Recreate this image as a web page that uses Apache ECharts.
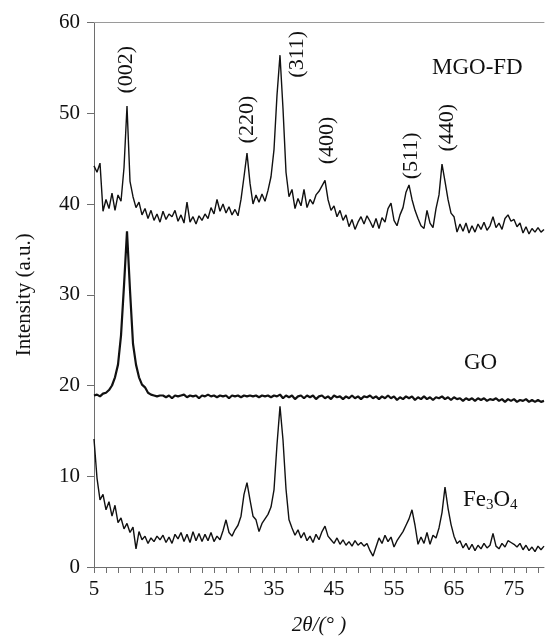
<!DOCTYPE html>
<html>
<head>
<meta charset="utf-8">
<script src="https://cdn.jsdelivr.net/npm/echarts@6/dist/echarts.min.js"></script>
<style>
  html, body { margin: 0; padding: 0; background: #fff; }
  #chart { width: 545px; height: 641px; }
</style>
</head>
<body>
<div id="chart"></div>
<script>
// 2θ grid, 5° → 80° in 0.5° steps
const angles = Array.from({ length: 151 }, (_, i) => 5 + i * 0.5)

// intensities (a.u.)
const mgoFd = [
  44.2, 43.5, 44.5, 39.2, 40.5, 39.5, 41.2, 39.3, 41.0, 40.3,
  44.0, 50.8, 42.5, 40.8, 39.6, 40.2, 38.8, 39.5, 38.4, 39.3,
  38.2, 38.9, 38.0, 39.2, 38.3, 38.9, 38.6, 39.3, 38.1, 38.8,
  37.9, 40.2, 38.0, 38.6, 37.8, 38.7, 38.2, 38.9, 38.4, 39.6,
  38.9, 40.5, 39.2, 40.0, 39.0, 39.7, 38.8, 39.4, 38.7, 40.5,
  43.0, 45.6, 42.3, 40.0, 41.0, 40.2, 41.1, 40.3, 41.5, 43.0,
  46.0, 52.0, 56.4, 50.5, 43.5, 40.8, 41.6, 39.5, 40.6, 39.8,
  41.6, 39.6, 40.5, 40.0, 41.0, 41.4, 42.0, 42.6, 40.5, 39.3,
  39.8, 38.6, 39.3, 38.2, 38.8, 37.5, 38.3, 37.2, 38.0, 38.6,
  37.8, 38.7, 38.1, 37.4, 38.4, 37.3, 38.5, 38.0, 39.5, 40.1,
  38.2, 37.6, 38.8, 39.6, 41.3, 42.1, 40.5, 39.3, 38.4, 37.6,
  37.3, 39.3, 37.9, 37.4, 39.5, 41.0, 44.4, 42.5, 40.5, 39.0,
  38.6, 36.9, 37.8, 37.0, 37.9, 36.8, 37.6, 36.9, 37.8, 37.2,
  38.0, 37.1, 37.6, 38.6, 37.4, 37.9, 37.2, 38.4, 38.8, 38.1,
  38.3, 37.5, 37.9, 36.8, 37.5, 36.7, 37.3, 36.9, 37.4, 36.9,
  37.2
]

const go = [
  18.9, 19.0, 18.8, 19.1, 19.2, 19.5, 20.0, 20.9, 22.3, 25.5,
  31.0, 37.0, 30.5, 24.6, 22.3, 20.9, 20.1, 19.8, 19.2, 19.0,
  18.9, 18.8, 18.9, 18.9, 18.7, 18.9, 18.6, 18.9, 18.8, 18.9,
  19.0, 18.7, 18.9, 18.8, 18.9, 18.6, 18.9, 18.8, 19.0, 18.8,
  18.9, 18.7, 18.9, 18.8, 18.9, 18.6, 18.9, 18.8, 18.9, 18.7,
  18.9, 18.8, 18.9, 18.8, 18.9, 18.7, 18.9, 18.8, 18.9, 18.7,
  18.9, 18.8, 19.0, 18.6, 18.9, 18.7, 18.9, 18.5, 18.8, 18.9,
  18.6, 18.9, 18.7, 18.9, 18.5, 18.8, 18.9, 18.6, 18.8, 18.5,
  18.9, 18.7, 18.8, 18.5, 18.8, 18.6, 18.9, 18.6, 18.8, 18.5,
  18.8, 18.7, 18.9, 18.6, 18.8, 18.5, 18.8, 18.6, 18.9, 18.6,
  18.8, 18.4, 18.7, 18.5, 18.8, 18.6, 18.8, 18.4, 18.7, 18.5,
  18.8, 18.5, 18.7, 18.4, 18.7, 18.6, 18.8, 18.5, 18.7, 18.4,
  18.7, 18.5, 18.6, 18.3, 18.6, 18.4, 18.6, 18.3, 18.6, 18.4,
  18.6, 18.3, 18.5, 18.4, 18.6, 18.3, 18.5, 18.2, 18.5, 18.3,
  18.5, 18.2, 18.4, 18.3, 18.5, 18.2, 18.4, 18.2, 18.4, 18.2,
  18.3
]

const fe3o4 = [
  14.1, 9.8, 7.4, 8.0, 6.3, 7.2, 5.6, 6.8, 4.9, 5.4,
  4.2, 4.8, 3.8, 4.4, 2.0, 3.9, 3.0, 3.4, 2.6, 3.2,
  2.8, 3.4, 3.0, 3.5, 2.7, 3.3, 2.6, 3.6, 3.1, 3.8,
  2.8, 3.6, 2.7, 3.9, 2.9, 3.7, 2.8, 3.6, 2.9, 3.8,
  2.8, 3.4, 3.0, 4.0, 5.2, 3.8, 3.4, 4.1, 4.6, 5.6,
  8.0, 9.3, 7.4, 5.6, 5.2, 3.9, 4.8, 5.3, 5.8, 6.6,
  8.5, 13.5, 17.7, 14.0, 8.6, 5.2, 4.3, 3.5, 4.1, 3.2,
  3.8, 2.9, 3.4, 2.7, 3.6, 3.0, 3.9, 4.5, 3.4, 3.0,
  2.6, 3.2, 2.5, 3.0, 2.4, 2.8, 2.3, 2.9, 2.4, 2.7,
  2.3, 2.6, 1.8, 1.2, 2.2, 3.2, 2.6, 3.5, 2.8, 3.3,
  2.2, 2.9, 3.4, 3.9, 4.6, 5.3, 6.3, 4.6, 2.5, 3.3,
  2.6, 3.8, 2.5, 3.5, 3.2, 4.3, 6.0, 8.8, 6.5, 4.7,
  3.4, 2.6, 2.9, 2.1, 2.6, 1.9, 2.5, 1.8, 2.4, 2.0,
  2.6, 2.1, 2.4, 3.7, 2.3, 2.0, 2.6, 2.2, 2.9, 2.7,
  2.5, 2.2, 2.6, 1.9, 2.4, 1.8, 2.2, 1.7, 2.3, 1.9,
  2.3
]

// Miller indices over the MGO-FD peaks
const peakNames = ['(002)', '(220)', '(311)', '(400)', '(511)', '(440)']
// where each rotated label is centred, in data units
const peakLabelAt = [[10.3, 54.8], [30.5, 49.3], [38.8, 56.5], [43.9, 47.0], [57.9, 45.3], [63.9, 48.4]]

const font = 'Liberation Serif, Times New Roman, serif'
const ink = '#111'
const axisGray = '#6e6e6e'

const pair = ys => angles.map((x, i) => [x, ys[i]])

const chart = echarts.init(document.getElementById('chart'))

chart.setOption({
  animation: false,
  backgroundColor: '#fff',
  grid: { left: 94, right: 1, top: 22.5, bottom: 68.5 },
  xAxis: [
    {
      type: 'value',
      min: 5,
      max: 80,
      interval: 2,
      name: '2θ/(° )',
      nameLocation: 'middle',
      nameGap: 48,
      nameTextStyle: { fontFamily: font, fontSize: 21, fontStyle: 'italic', color: ink },
      axisLine: { lineStyle: { color: axisGray, width: 1 } },
      axisTick: { inside: false, length: 6, lineStyle: { color: axisGray } },
      axisLabel: {
        showMaxLabel: false,
        margin: 12,
        fontFamily: font,
        fontSize: 21,
        color: ink,
        formatter: v => ((v - 5) % 10 === 0 ? String(v) : '')
      },
      splitLine: { show: false }
    },
    {
      type: 'value',
      position: 'top',
      min: 5,
      max: 80,
      axisLine: { show: true, lineStyle: { color: '#9a9a9a', width: 1 } },
      axisTick: { show: false },
      axisLabel: { show: false },
      splitLine: { show: false }
    }
  ],
  yAxis: {
    type: 'value',
    min: 0,
    max: 60,
    interval: 10,
    name: 'Intensity (a.u.)',
    nameLocation: 'middle',
    nameGap: 59,
    nameTextStyle: { fontFamily: font, fontSize: 21, color: ink },
    axisLine: { show: true, lineStyle: { color: axisGray, width: 1 } },
    axisTick: { show: true, inside: false, length: 7, lineStyle: { color: axisGray } },
    axisLabel: { margin: 14, fontFamily: font, fontSize: 21, color: ink },
    splitLine: { show: false }
  },
  series: [
    {
      name: 'MGO-FD',
      type: 'line',
      data: pair(mgoFd),
      showSymbol: false,
      lineStyle: { color: ink, width: 1.4 }
    },
    {
      name: 'GO',
      type: 'line',
      data: pair(go),
      showSymbol: false,
      lineStyle: { color: ink, width: 2.2 }
    },
    {
      name: 'Fe3O4',
      type: 'line',
      data: pair(fe3o4),
      showSymbol: false,
      lineStyle: { color: ink, width: 1.4 }
    }
  ]
})

// peak labels, rotated, anchored through the axes
const peakText = peakNames.map((name, i) => {
  const [px, py] = chart.convertToPixel({ xAxisIndex: 0, yAxisIndex: 0 }, peakLabelAt[i])
  return {
    type: 'text',
    x: px,
    y: py,
    rotation: Math.PI / 2,
    style: {
      text: name,
      fontFamily: font,
      fontSize: 22,
      fill: ink,
      align: 'center',
      verticalAlign: 'middle'
    }
  }
})

chart.setOption({
  graphic: [
    ...peakText,
    {
      type: 'text',
      left: 432,
      top: 56,
      style: { text: 'MGO-FD', fontFamily: font, fontSize: 23, fill: ink }
    },
    {
      type: 'text',
      left: 464,
      top: 351,
      style: { text: 'GO', fontFamily: font, fontSize: 23, fill: ink }
    },
    {
      type: 'text',
      left: 463,
      top: 488,
      style: {
        text: '{a|Fe}{s|3}{a|O}{s|4}',
        fill: ink,
        rich: {
          a: { fontFamily: font, fontSize: 23, fill: ink },
          s: { fontFamily: font, fontSize: 15, fill: ink, verticalAlign: 'bottom', padding: [12, 0, 0, 0] }
        }
      }
    }
  ]
})
</script>
</body>
</html>
